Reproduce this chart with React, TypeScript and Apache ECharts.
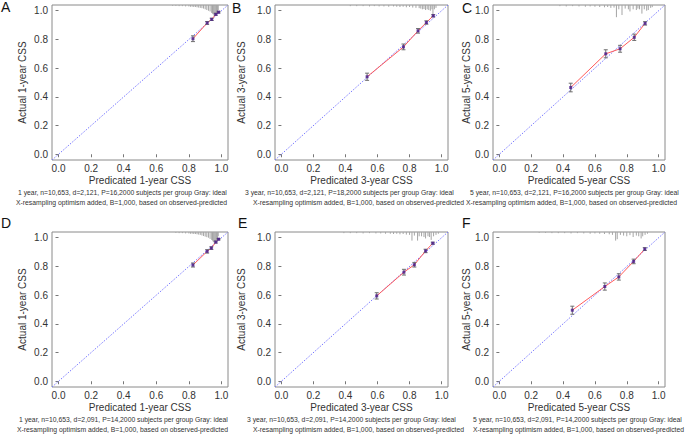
import React, { useEffect, useRef } from 'react';
import * as echarts from 'echarts';

// ---------- data ----------
const tickValues = [0, 0.2, 0.4, 0.6, 0.8, 1.0];
const panelLetters = ['A', 'B', 'C', 'D', 'E', 'F'];
const horizons = ['1-year', '3-year', '5-year', '1-year', '3-year', '5-year'];
const captionLine1 = [
  '1 year, n=10,653, d=2,121, P=16,2000 subjects per group Gray: ideal',
  '3 year, n=10,653, d=2,121, P=18,2000 subjects per group Gray: ideal',
  '5 year, n=10,653, d=2,121, P=16,2000 subjects per group Gray: ideal',
  '1 year, n=10,653, d=2,091, P=14,2000 subjects per group Gray: ideal',
  '3 year, n=10,653, d=2,091, P=14,2000 subjects per group Gray: ideal',
  '5 year, n=10,653, d=2,091, P=14,2000 subjects per group Gray: ideal',
];
const captionLine2 = 'X-resampling optimism added, B=1,000, based on observed-predicted';

const predA = [0.825, 0.912, 0.94, 0.965, 0.982];
const obsA = [0.805, 0.915, 0.94, 0.975, 0.99];
const errA = [0.02, 0.01, 0.008, 0.007, 0.006];

const predB = [0.535, 0.762, 0.853, 0.905, 0.948];
const obsB = [0.54, 0.748, 0.86, 0.918, 0.965];
const errB = [0.025, 0.02, 0.016, 0.012, 0.008];

const predC = [0.448, 0.668, 0.758, 0.847, 0.915];
const obsC = [0.465, 0.7, 0.735, 0.815, 0.912];
const errC = [0.03, 0.028, 0.024, 0.022, 0.012];

const predD = [0.825, 0.912, 0.938, 0.965, 0.982];
const obsD = [0.81, 0.905, 0.928, 0.97, 0.99];
const errD = [0.014, 0.012, 0.009, 0.007, 0.005];

const predE = [0.595, 0.765, 0.83, 0.9, 0.945];
const obsE = [0.595, 0.76, 0.812, 0.908, 0.962];
const errE = [0.022, 0.02, 0.016, 0.012, 0.007];

const predF = [0.458, 0.662, 0.75, 0.843, 0.913];
const obsF = [0.495, 0.66, 0.727, 0.835, 0.921];
const errF = [0.028, 0.025, 0.022, 0.016, 0.01];

// rug of predicted values along the top (position, height in y units)
const rugXA = [0.70, 0.72, 0.74, 0.76, 0.78, 0.80, 0.81, 0.82, 0.83, 0.84, 0.85, 0.86, 0.87, 0.88, 0.89, 0.90, 0.91, 0.92, 0.93, 0.94, 0.945, 0.95, 0.955, 0.96, 0.965, 0.97, 0.975, 0.98];
const rugHA = [0.006, 0.006, 0.008, 0.008, 0.01, 0.01, 0.012, 0.012, 0.014, 0.014, 0.016, 0.018, 0.02, 0.022, 0.025, 0.03, 0.035, 0.04, 0.045, 0.055, 0.06, 0.065, 0.07, 0.07, 0.065, 0.06, 0.05, 0.035];

const rugXB = [0.43, 0.47, 0.51, 0.55, 0.58, 0.61, 0.64, 0.67, 0.7, 0.72, 0.74, 0.76, 0.78, 0.8, 0.82, 0.84, 0.86, 0.87, 0.88, 0.89, 0.9, 0.91, 0.92, 0.93, 0.94, 0.946, 0.955, 0.965];
const rugHB = [0.008, 0.008, 0.008, 0.01, 0.008, 0.01, 0.01, 0.012, 0.01, 0.012, 0.014, 0.012, 0.016, 0.014, 0.018, 0.02, 0.022, 0.025, 0.03, 0.028, 0.035, 0.03, 0.035, 0.04, 0.03, 0.085, 0.03, 0.02];

const rugXC = [0.38, 0.42, 0.46, 0.5, 0.54, 0.57, 0.6, 0.63, 0.66, 0.68, 0.7, 0.72, 0.735, 0.75, 0.77, 0.79, 0.81, 0.82, 0.84, 0.86, 0.87, 0.88, 0.895, 0.91, 0.925, 0.935, 0.95, 0.96];
const rugHC = [0.008, 0.01, 0.008, 0.01, 0.012, 0.01, 0.012, 0.014, 0.016, 0.014, 0.02, 0.018, 0.085, 0.03, 0.07, 0.025, 0.03, 0.045, 0.03, 0.035, 0.025, 0.03, 0.06, 0.03, 0.04, 0.035, 0.02, 0.015];

const rugXD = [0.72, 0.74, 0.76, 0.78, 0.80, 0.81, 0.82, 0.83, 0.84, 0.85, 0.86, 0.87, 0.88, 0.89, 0.90, 0.91, 0.92, 0.93, 0.94, 0.945, 0.95, 0.955, 0.96, 0.965, 0.97, 0.975, 0.98];
const rugHD = [0.006, 0.008, 0.008, 0.01, 0.01, 0.012, 0.012, 0.014, 0.014, 0.016, 0.018, 0.02, 0.024, 0.028, 0.032, 0.036, 0.04, 0.048, 0.055, 0.06, 0.07, 0.065, 0.07, 0.06, 0.055, 0.045, 0.03];

const rugXE = [0.39, 0.43, 0.47, 0.51, 0.55, 0.59, 0.62, 0.65, 0.68, 0.7, 0.72, 0.74, 0.76, 0.78, 0.8, 0.815, 0.83, 0.85, 0.86, 0.875, 0.89, 0.9, 0.915, 0.925, 0.935, 0.95, 0.965, 0.98];
const rugHE = [0.008, 0.008, 0.008, 0.01, 0.008, 0.01, 0.01, 0.012, 0.012, 0.014, 0.012, 0.016, 0.014, 0.018, 0.02, 0.06, 0.025, 0.06, 0.03, 0.03, 0.035, 0.045, 0.03, 0.035, 0.055, 0.03, 0.02, 0.012];

const rugXF = [0.25, 0.29, 0.33, 0.37, 0.41, 0.45, 0.49, 0.53, 0.57, 0.6, 0.63, 0.66, 0.69, 0.71, 0.73, 0.74, 0.76, 0.78, 0.8, 0.82, 0.84, 0.86, 0.875, 0.89, 0.9, 0.915, 0.93];
const rugHF = [0.006, 0.006, 0.008, 0.008, 0.008, 0.01, 0.008, 0.01, 0.012, 0.01, 0.012, 0.014, 0.016, 0.02, 0.06, 0.05, 0.02, 0.025, 0.03, 0.022, 0.035, 0.025, 0.03, 0.045, 0.03, 0.02, 0.012];

const predicted = [predA, predB, predC, predD, predE, predF];
const observed = [obsA, obsB, obsC, obsD, obsE, obsF];
const errors = [errA, errB, errC, errD, errE, errF];
const rugX = [rugXA, rugXB, rugXC, rugXD, rugXE, rugXF];
const rugH = [rugHA, rugHB, rugHC, rugHD, rugHE, rugHF];

// ---------- layout ----------
const FONT = '"Liberation Sans", Arial, Helvetica, sans-serif';
const AX_MIN = -0.04;
const AX_MAX = 1.04;
const colLeft = [52, 275, 493];
const colRight = [228, 448, 665];
const rowTop = [5, 232];
const gridH = 155;
const yTitleX = [22, 241, 466];
const letterPos = [[1, 0], [232, 1], [462, 1], [1, 216], [238, 216], [462, 216]];
const cap1X = [18, 245, 470, 19, 247, 473];
const cap2X = [16, 253, 466, 17, 253, 473];

function buildOption() {
  const grid: any[] = [];
  const xAxis: any[] = [];
  const yAxis: any[] = [];
  const series: any[] = [];
  const graphic: any[] = [];

  for (let i = 0; i < 6; i++) {
    const c = i % 3;
    const r = Math.floor(i / 3);
    const left = colLeft[c];
    const right = colRight[c];
    const top = rowTop[r];
    const bottom = top + gridH;
    grid.push({
      left,
      top,
      width: right - left,
      height: gridH,
      show: true,
      borderColor: '#8a8a8a',
      borderWidth: 1,
      backgroundColor: 'transparent',
    });
    const axisCommon = {
      type: 'value',
      gridIndex: i,
      min: AX_MIN,
      max: AX_MAX,
      splitLine: { show: false },
      axisLine: { show: false },
      axisTick: {
        show: true,
        customValues: tickValues,
        length: 3,
        lineStyle: { color: '#777', width: 1 },
      },
    };
    xAxis.push({
      ...axisCommon,
      axisLabel: {
        customValues: tickValues,
        formatter: (v: number) => v.toFixed(1),
        fontSize: 10,
        fontFamily: FONT,
        color: '#333',
        margin: 3,
      },
    });
    yAxis.push({
      ...axisCommon,
      axisLabel: {
        customValues: tickValues,
        formatter: (v: number) => v.toFixed(1),
        fontSize: 10,
        fontFamily: FONT,
        color: '#333',
        margin: 4,
      },
    });

    // ideal diagonal
    series.push({
      type: 'line',
      xAxisIndex: i,
      yAxisIndex: i,
      data: [[AX_MIN, AX_MIN], [AX_MAX, AX_MAX]],
      showSymbol: false,
      symbol: 'none',
      lineStyle: { color: '#7878ff', width: 1, type: [1.5, 1.5] },
      z: 1,
      silent: true,
    });

    // rug of predictions at top
    series.push({
      type: 'custom',
      xAxisIndex: i,
      yAxisIndex: i,
      data: rugX[i].map((x, k) => [x, rugH[i][k]]),
      encode: { x: 0, y: 1 },
      renderItem: (params: any, api: any) => {
        const x = api.value(0);
        const h = api.value(1);
        const p1 = api.coord([x, AX_MAX]);
        const p2 = api.coord([x, AX_MAX - h]);
        return {
          type: 'line',
          shape: { x1: p1[0], y1: p1[1], x2: p2[0], y2: p2[1] },
          style: { stroke: '#a5a5a5', lineWidth: 1 },
        };
      },
      z: 2,
      silent: true,
    });

    const pts = predicted[i].map((p, k) => [p, observed[i][k]]);

    // calibration line
    series.push({
      type: 'line',
      xAxisIndex: i,
      yAxisIndex: i,
      data: pts,
      showSymbol: false,
      symbol: 'none',
      lineStyle: { color: '#ff5a5a', width: 1 },
      z: 3,
      silent: true,
    });

    // error bars
    series.push({
      type: 'custom',
      xAxisIndex: i,
      yAxisIndex: i,
      data: predicted[i].map((p, k) => [p, observed[i][k] - errors[i][k], observed[i][k] + errors[i][k]]),
      encode: { x: 0, y: [1, 2] },
      renderItem: (params: any, api: any) => {
        const x = api.value(0);
        const lo = api.coord([x, api.value(1)]);
        const hi = api.coord([x, api.value(2)]);
        const w = 2;
        const st = { stroke: '#6e6e6e', lineWidth: 1 };
        return {
          type: 'group',
          children: [
            { type: 'line', shape: { x1: lo[0], y1: lo[1], x2: hi[0], y2: hi[1] }, style: st },
            { type: 'line', shape: { x1: lo[0] - w, y1: lo[1], x2: lo[0] + w, y2: lo[1] }, style: st },
            { type: 'line', shape: { x1: hi[0] - w, y1: hi[1], x2: hi[0] + w, y2: hi[1] }, style: st },
          ],
        };
      },
      z: 4,
      silent: true,
    });

    // points
    series.push({
      type: 'scatter',
      xAxisIndex: i,
      yAxisIndex: i,
      data: pts,
      symbol: 'rect',
      symbolSize: 3,
      itemStyle: { color: '#4a1a8c' },
      z: 5,
      silent: true,
    });

    // texts
    const cx = (left + right) / 2;
    graphic.push({
      type: 'text',
      x: letterPos[i][0],
      y: letterPos[i][1],
      style: { text: panelLetters[i], fontSize: 14, fontFamily: FONT, fill: '#111', align: 'left', verticalAlign: 'top' },
    });
    graphic.push({
      type: 'text',
      x: yTitleX[c],
      y: top + gridH / 2,
      rotation: Math.PI / 2,
      style: { text: `Actual ${horizons[i]} CSS`, fontSize: 10, fontFamily: FONT, fill: '#333', align: 'center', verticalAlign: 'middle' },
    });
    graphic.push({
      type: 'text',
      x: cx,
      y: bottom + 20,
      style: { text: `Predicated ${horizons[i]} CSS`, fontSize: 10, fontFamily: FONT, fill: '#333', align: 'center', verticalAlign: 'middle' },
    });
    graphic.push({
      type: 'text',
      x: cap1X[i],
      y: bottom + 32,
      style: { text: captionLine1[i], fontSize: 6.8, fontFamily: FONT, fill: '#333', align: 'left', verticalAlign: 'middle' },
    });
    graphic.push({
      type: 'text',
      x: cap2X[i],
      y: bottom + 42,
      style: { text: captionLine2, fontSize: 6.8, fontFamily: FONT, fill: '#333', align: 'left', verticalAlign: 'middle' },
    });
  }

  return {
    animation: false,
    backgroundColor: '#ffffff',
    grid,
    xAxis,
    yAxis,
    series,
    graphic,
  };
}

export default function App() {
  const ref = useRef<HTMLDivElement>(null);
  useEffect(() => {
    document.body.style.margin = '0';
    if (!ref.current) return;
    const chart = echarts.init(ref.current, undefined, { renderer: 'svg' });
    chart.setOption(buildOption() as any);
    return () => chart.dispose();
  }, []);
  return <div ref={ref} style={{ width: 693, height: 434 }} />;
}
